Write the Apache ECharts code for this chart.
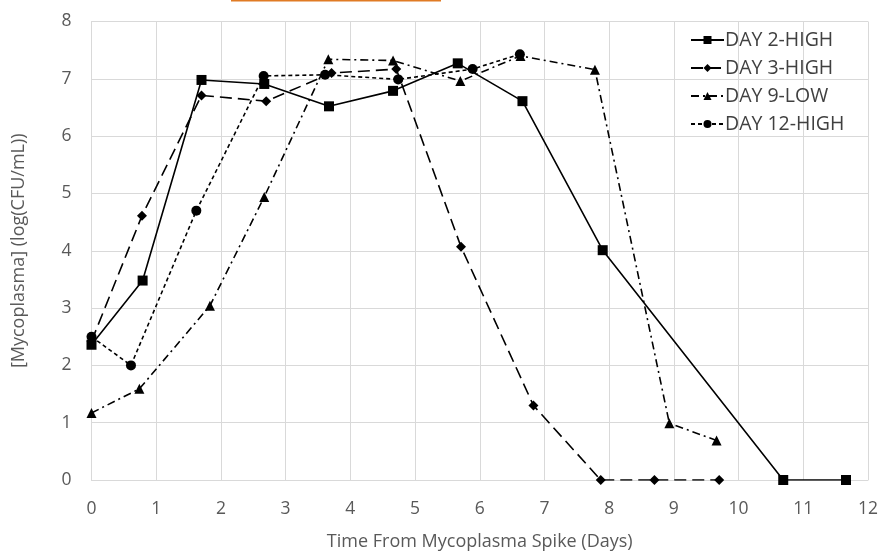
<!DOCTYPE html>
<html>
<head>
<meta charset="utf-8">
<script src="https://cdn.jsdelivr.net/npm/echarts@6/dist/echarts.min.js"></script>
<style>
  html, body { margin: 0; padding: 0; background: #fff; }
  #chart { width: 880px; height: 552px; }
</style>
</head>
<body>
<div id="chart"></div>
<script>
// Mycoplasma growth after spike, four runs (x: days, y: log CFU/mL)
const seriesNames = ['DAY 2-HIGH', 'DAY 3-HIGH', 'DAY 9-LOW', 'DAY 12-HIGH'];

const day2High = [
  [0, 2.36], [0.79, 3.48], [1.70, 6.98], [2.67, 6.91], [3.67, 6.52],
  [4.66, 6.79], [5.66, 7.27], [6.66, 6.61], [7.90, 4.01], [10.69, 0], [11.66, 0]
];
const day3High = [
  [0, 2.42], [0.78, 4.61], [1.70, 6.71], [2.70, 6.61], [3.71, 7.10],
  [4.71, 7.17], [5.71, 4.07], [6.83, 1.30], [7.87, 0], [8.70, 0], [9.70, 0]
];
const day9Low = [
  [0, 1.17], [0.74, 1.59], [1.83, 3.04], [2.67, 4.94], [3.66, 7.34],
  [4.66, 7.32], [5.70, 6.96], [6.63, 7.40], [7.78, 7.16], [8.93, 0.99], [9.66, 0.69]
];
const day12High = [
  [0, 2.50], [0.61, 2.00], [1.62, 4.70], [2.66, 7.05], [3.61, 7.07],
  [4.74, 6.99], [5.89, 7.17], [6.62, 7.43]
];

const xTicks = { min: 0, max: 12, step: 1 };
const yTicks = { min: 0, max: 8, step: 1 };

const gridColor = '#d9d9d9';
const textColor = '#595959';
const font = 'Open Sans';

function lineSeries(name, data, symbol, size, dash) {
  return {
    name: name,
    type: 'line',
    data: data,
    symbol: symbol,
    symbolSize: size,
    showSymbol: true,
    itemStyle: { color: '#000' },
    lineStyle: { color: '#000', width: 1.6, type: dash },
    emphasis: { disabled: true },
    animation: false,
    z: 3
  };
}

const chart = echarts.init(document.getElementById('chart'), null, { renderer: 'canvas' });
chart.setOption({
  backgroundColor: '#fff',
  animation: false,
  grid: { left: 91.5, right: 12, top: 21.5, bottom: 72, containLabel: false, outerBoundsMode: 'none' },
  legend: {
    data: seriesNames,
    orient: 'vertical',
    left: 685,
    top: 25,
    itemWidth: 33,
    itemHeight: 10,
    itemGap: 8,
    textStyle: { fontFamily: font, fontSize: 19.5, color: '#404040', padding: [0, 0, 0, -4] },
    selectedMode: false
  },
  xAxis: {
    type: 'value',
    min: xTicks.min,
    max: xTicks.max,
    interval: xTicks.step,
    name: 'Time From Mycoplasma Spike (Days)',
    nameLocation: 'middle',
    nameGap: 53,
    nameTextStyle: { fontFamily: font, fontSize: 18, color: textColor },
    axisLine: { show: true, lineStyle: { color: gridColor, width: 1 } },
    axisTick: { show: false },
    axisLabel: { fontFamily: font, fontSize: 17.5, color: textColor, margin: 20 },
    splitLine: { show: true, lineStyle: { color: gridColor, width: 1 } }
  },
  yAxis: {
    type: 'value',
    min: yTicks.min,
    max: yTicks.max,
    interval: yTicks.step,
    name: '[Mycoplasma] (log(CFU/mL))',
    nameLocation: 'middle',
    nameGap: 64,
    nameTextStyle: { fontFamily: font, fontSize: 18, color: textColor },
    axisLine: { show: true, lineStyle: { color: gridColor, width: 1 } },
    axisTick: { show: false },
    axisLabel: { fontFamily: font, fontSize: 17.5, color: textColor, margin: 20 },
    splitLine: { show: true, lineStyle: { color: gridColor, width: 1 } }
  },
  graphic: [
    {
      type: 'line',
      shape: { x1: 231, y1: 0.5, x2: 441, y2: 0.5 },
      style: { stroke: '#e07b24', lineWidth: 2 },
      silent: true
    }
  ],
  series: [
    lineSeries(seriesNames[0], day2High, 'rect', 10, 'solid'),
    lineSeries(seriesNames[1], day3High, 'diamond', 10, [12, 6]),
    lineSeries(seriesNames[2], day9Low, 'triangle', 10, [8, 4, 2, 4]),
    lineSeries(seriesNames[3], day12High, 'circle', 10, [4, 3])
  ]
});
</script>
</body>
</html>
